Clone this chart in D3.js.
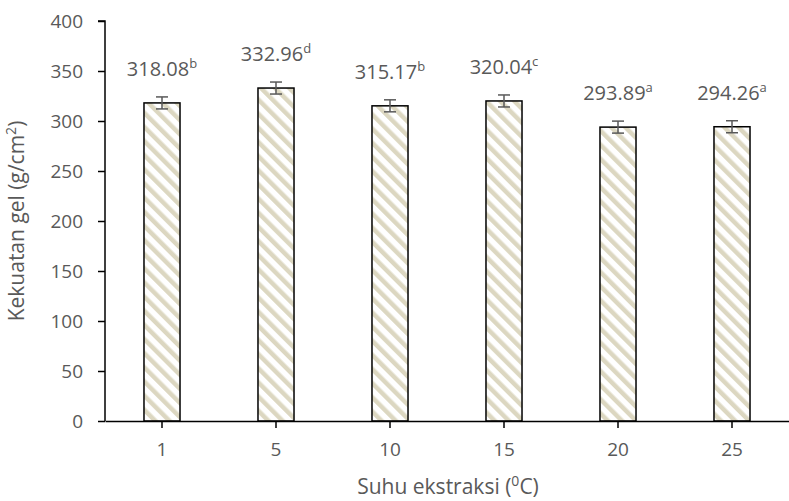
<!DOCTYPE html>
<html><head><meta charset="utf-8">
<script src="https://cdn.jsdelivr.net/npm/d3@7/dist/d3.min.js"></script>
<style>body{margin:0;background:#fff}svg{display:block}text{font-family:"Open Sans",sans-serif;fill:#595959}</style>
</head><body>
<svg id="c" width="789" height="501"></svg>
<script>
const categories = ["1","5","10","15","20","25"];
const values = [318.08, 332.96, 315.17, 320.04, 293.89, 294.26];
const errors = [6, 6, 6, 6, 6, 6];
const letters = ["b","d","b","c","a","a"];
const yTicks = [0,50,100,150,200,250,300,350,400];

const svg = d3.select("#c");
const x = d3.scaleBand().domain(categories).range([105,789]).paddingInner(0.684).paddingOuter(0.342);
const y = d3.scaleLinear().domain([0,400]).range([421,21]);

const defs = svg.append("defs");
const pat = defs.append("pattern").attr("id","hatch").attr("patternUnits","userSpaceOnUse")
  .attr("width",10).attr("height",10).attr("patternTransform","rotate(-45)");
pat.append("rect").attr("width",10).attr("height",10).attr("fill","#fff");
pat.append("rect").attr("width",4.5).attr("height",10).attr("fill","#dcd7c1");

// bars
svg.append("g").selectAll("rect").data(values).join("rect")
  .attr("x",(d,i)=>x(categories[i])).attr("width",x.bandwidth())
  .attr("y",d=>y(d)).attr("height",d=>y(0)-y(d))
  .attr("fill","url(#hatch)").attr("stroke","#000").attr("stroke-width",1.5);

// error bars
const eg = svg.append("g").attr("stroke","#595959").attr("stroke-width",1.5);
values.forEach((v,i)=>{
  const cx = x(categories[i]) + x.bandwidth()/2;
  eg.append("line").attr("x1",cx).attr("x2",cx).attr("y1",y(v+errors[i])).attr("y2",y(v-errors[i]));
  eg.append("line").attr("x1",cx-6).attr("x2",cx+6).attr("y1",y(v+errors[i])).attr("y2",y(v+errors[i]));
  eg.append("line").attr("x1",cx-6).attr("x2",cx+6).attr("y1",y(v-errors[i])).attr("y2",y(v-errors[i]));
});

// value labels
values.forEach((v,i)=>{
  const cx = x(categories[i]) + x.bandwidth()/2;
  const t = svg.append("text").attr("x",cx).attr("y",y(v+errors[i])-21)
    .attr("text-anchor","middle").attr("font-size",20);
  t.append("tspan").text(v.toFixed(2));
  t.append("tspan").attr("font-size",13).attr("dy",-8).text(letters[i]);
});

// y axis
const ya = svg.append("g").attr("transform","translate(105,0)")
  .call(d3.axisLeft(y).tickValues(yTicks).tickSize(7).tickPadding(15));
ya.select(".domain").attr("stroke","#000").attr("stroke-width",1.5).attr("d","M-7,"+y(400)+"H0V"+y(0));
ya.selectAll(".tick line").attr("stroke","#000").attr("stroke-width",1.5);
ya.selectAll(".tick text").attr("font-size",19).attr("fill","#595959").attr("font-family","Open Sans");

// x axis
const xa = svg.append("g").attr("transform","translate(0,421)")
  .call(d3.axisBottom(x).tickSize(7).tickPadding(15).tickSizeOuter(0));
xa.select(".domain").attr("stroke","#000").attr("stroke-width",1.5);
xa.selectAll(".tick line").attr("stroke","#000").attr("stroke-width",1.5);
xa.selectAll(".tick text").attr("font-size",19).attr("fill","#595959").attr("font-family","Open Sans");

// titles
const xt = svg.append("text").attr("x",448).attr("y",494).attr("text-anchor","middle").attr("font-size",21);
xt.append("tspan").text("Suhu ekstraksi (");
xt.append("tspan").attr("font-size",14).attr("dy",-8).text("0");
xt.append("tspan").attr("dy",8).text("C)");

const yt = svg.append("text").attr("transform","translate(24,221) rotate(-90)").attr("text-anchor","middle").attr("font-size",21);
yt.append("tspan").text("Kekuatan gel (g/cm");
yt.append("tspan").attr("font-size",14).attr("dy",-8).text("2");
yt.append("tspan").attr("dy",8).text(")");
</script>
</body></html>
